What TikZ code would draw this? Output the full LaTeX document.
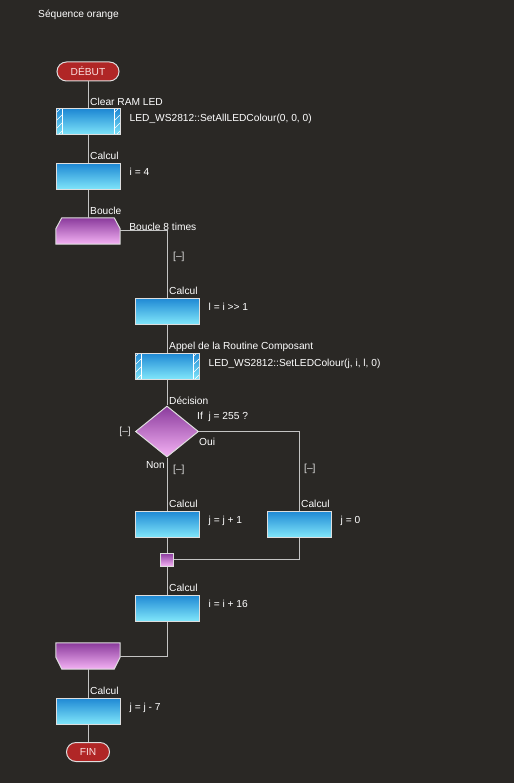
\documentclass[tikz,border=0pt]{standalone}
\usepackage{fontspec}
\setmainfont{Liberation Sans}
\usepackage{tikz}
\usetikzlibrary{calc,shapes.geometric,shapes.misc}

\definecolor{fond}{RGB}{42,40,37}
\definecolor{filgris}{RGB}{196,196,196}
\definecolor{bord}{RGB}{222,222,222}
\definecolor{bleuhaut}{RGB}{30,136,212}
\definecolor{bleubas}{RGB}{128,230,250}
\definecolor{violethaut}{RGB}{138,58,156}
\definecolor{violetbas}{RGB}{244,178,244}
\definecolor{rouge}{RGB}{176,38,38}
\definecolor{rosepale}{RGB}{250,222,222}
\definecolor{gristexte}{RGB}{224,224,224}

\begin{document}
\begin{tikzpicture}[x=1pt,y=-1pt,
	every node/.style={font=\fontsize{10.2}{12}\selectfont,text=white,inner sep=0pt},
	liaison/.style={draw=filgris,line width=1pt},
	calcul/.style={rectangle,draw=bord,line width=1pt,top color=bleuhaut,bottom color=bleubas,minimum width=64pt,minimum height=26pt},
	macro/.style={calcul,path picture={
		\draw[white,line width=0.7pt] ($(path picture bounding box.north west)+(6,0)$) -- ($(path picture bounding box.south west)+(6,0)$);
		\draw[white,line width=0.7pt] ($(path picture bounding box.north east)+(-6,0)$) -- ($(path picture bounding box.south east)+(-6,0)$);
		\foreach \k in {0,...,4}{
			\draw[white,line width=0.5pt] ($(path picture bounding box.south west)+(0,-8*\k+2)$) -- +(6,-6);
			\draw[white,line width=0.5pt] ($(path picture bounding box.south east)+(-6,-8*\k+2)$) -- +(6,-6);
		}}},
	cadre/.style={rectangle,minimum width=64pt,minimum height=26pt},
	bouclefond/.style={draw=bord,line width=1pt,top color=violethaut,bottom color=violetbas},
	decision/.style={diamond,draw=bord,line width=1pt,top color=violethaut,bottom color=violetbas,minimum width=63pt,minimum height=51pt},
	jonction/.style={rectangle,draw=bord,line width=1pt,top color=violethaut,bottom color=violetbas,minimum size=13pt},
	terminal/.style={rounded rectangle,draw=bord,line width=1pt,fill=rouge,text=rosepale,minimum height=19pt},
	etiquette/.style={anchor=base west},
	tiret/.style={anchor=base west,text=gristexte}]

	\fill[fond] (0,0) rectangle (514,783);
	\node[etiquette] (titre) at (38,18) {Séquence orange};

	% colonne principale
	\node[terminal,minimum width=62pt] (debut) at (88,71.5) {DÉBUT};
	\node[macro] (clear) at (88,122) {};
	\node[calcul] (calcA) at (88,176.5) {};
	\node[cadre] (boucle) at (88,231) {};
	\path[bouclefond] (boucle.south west) -- ($(boucle.north west)+(0,11)$) -- ($(boucle.north west)+(6,0)$) -- ($(boucle.north east)+(-6,0)$) -- ($(boucle.north east)+(0,11)$) -- (boucle.south east) -- cycle;
	\coordinate (coinboucle) at (167,231);

	% corps de la boucle
	\node[calcul] (calcL) at (167,311) {};
	\node[macro] (appel) at (167,366) {};
	\node[decision] (test) at (167,431.5) {};
	\coordinate (coinoui) at (299,431.5);
	\node[calcul] (jplus) at (167,524) {};
	\node[calcul] (jzero) at (299,524) {};
	\node[jonction] (jonc) at (167,559.5) {};
	\node[calcul] (iplus) at (167,608) {};

	% fin
	\node[cadre] (bouclefin) at (88,656) {};
	\path[bouclefond] (bouclefin.north west) -- ($(bouclefin.south west)+(0,-12)$) -- ($(bouclefin.south west)+(6,0)$) -- ($(bouclefin.south east)+(-6,0)$) -- ($(bouclefin.south east)+(0,-12)$) -- (bouclefin.north east) -- cycle;
	\node[calcul] (calcJ) at (88,711) {};
	\node[terminal,minimum width=43pt] (fin) at (88,752) {FIN};

	% liaisons
	\draw[liaison] (debut) -- (clear);
	\draw[liaison] (clear) -- (calcA);
	\draw[liaison] (calcA) -- (boucle.north);
	\draw[liaison] (boucle.east) -- (coinboucle) -- (calcL);
	\draw[liaison] (calcL) -- (appel);
	\draw[liaison] (appel) -- (test);
	\draw[liaison] (test) -- (jplus);
	\draw[liaison] (test.east) -- (coinoui) -- (jzero);
	\draw[liaison] (jplus) -- (jonc);
	\draw[liaison] (jzero.south) |- (jonc.east);
	\draw[liaison] (jonc) -- (iplus);
	\draw[liaison] (iplus.south) |- (bouclefin.east);
	\draw[liaison] (bouclefin) -- (calcJ);
	\draw[liaison] (calcJ) -- (fin);

	% textes
	\node[etiquette] (tClear) at ($(clear.north)+(2,-3)$) {Clear RAM LED};
	\node[etiquette] (sClear) at ($(clear.north east)+(9,13.5)$) {LED\_WS2812::SetAllLEDColour(0, 0, 0)};
	\node[etiquette] (tCalcA) at ($(calcA.north)+(2,-3)$) {Calcul};
	\node[etiquette] (sCalcA) at ($(calcA.north east)+(9,12.5)$) {i = 4};
	\node[etiquette] (tBoucle) at ($(boucle.north)+(2,-3)$) {Boucle};
	\node[etiquette] (sBoucle) at ($(boucle.north east)+(9,12.5)$) {Boucle 8 times};
	\node[tiret] (mBoucle) at ($(coinboucle)+(6,28)$) {[–]};
	\node[etiquette] (tCalcL) at ($(calcL.north)+(2,-3)$) {Calcul};
	\node[etiquette] (sCalcL) at ($(calcL.north east)+(9,12.5)$) {l = i >{}> 1};
	\node[etiquette] (tAppel) at ($(appel.north)+(2,-3)$) {Appel de la Routine Composant};
	\node[etiquette] (sAppel) at ($(appel.north east)+(9,13.5)$) {LED\_WS2812::SetLEDColour(j, i, l, 0)};
	\node[etiquette] (tTest) at ($(test.north)+(2,-1.5)$) {Décision};
	\node[etiquette] (sTest) at ($(test.east)+(-2,-12.5)$) {If\ \ j = 255 ?};
	\node[etiquette] (oui) at ($(test.east)+(0,14)$) {Oui};
	\node[anchor=base east] (non) at ($(test.south)+(-2,11)$) {Non};
	\node[anchor=east,text=gristexte] (mTest) at ($(test.west)+(-4,0)$) {[–]};
	\node[tiret] (mNon) at ($(test.south)+(6,15)$) {[–]};
	\node[tiret] (mOui) at ($(jzero.north)+(5,-39)$) {[–]};
	\node[etiquette] (tJplus) at ($(jplus.north)+(2,-3)$) {Calcul};
	\node[etiquette] (sJplus) at ($(jplus.north east)+(9,12.5)$) {j = j + 1};
	\node[etiquette] (tJzero) at ($(jzero.north)+(2,-3)$) {Calcul};
	\node[etiquette] (sJzero) at ($(jzero.north east)+(9,12.5)$) {j = 0};
	\node[etiquette] (tIplus) at ($(iplus.north)+(2,-3)$) {Calcul};
	\node[etiquette] (sIplus) at ($(iplus.north east)+(9,12.5)$) {i = i + 16};
	\node[etiquette] (tCalcJ) at ($(calcJ.north)+(2,-3)$) {Calcul};
	\node[etiquette] (sCalcJ) at ($(calcJ.north east)+(9,12.5)$) {j = j - 7};
\end{tikzpicture}
\end{document}
